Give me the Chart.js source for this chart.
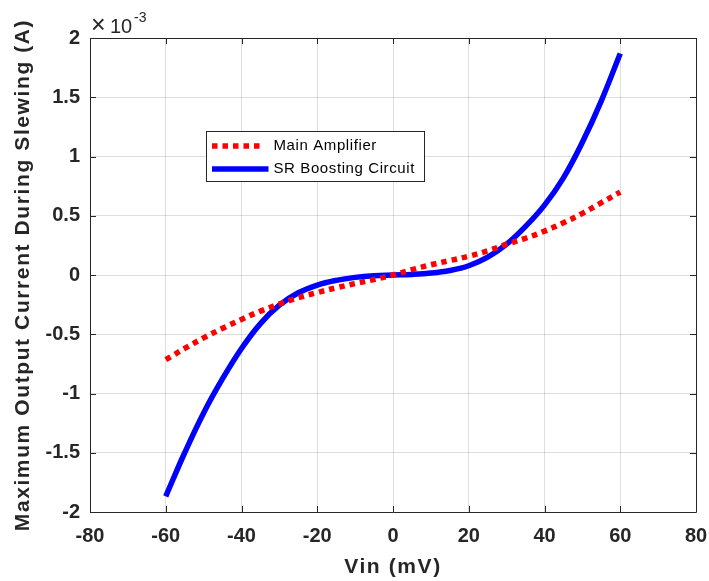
<!DOCTYPE html>
<html>
<head>
<meta charset="utf-8">
<script src="https://cdn.jsdelivr.net/npm/chart.js@4.4.0/dist/chart.umd.min.js"></script>
<style>
  body { margin: 0; background: #fff; }
  #wrap { width: 709px; height: 581px; }
</style>
</head>
<body>
<div id="wrap"><canvas id="myChart" width="709" height="581"></canvas></div>
<script>
// values in units of 1e-3 A
var vin = [-60, -55, -50, -45, -40, -35, -30, -25, -20, -15, -10, -5, 0,
           5, 10, 15, 20, 25, 30, 35, 40, 45, 50, 55, 60];
var mainAmp = [-0.714, -0.62, -0.53, -0.45, -0.375, -0.305, -0.245, -0.192, -0.148, -0.108, -0.072, -0.038, 0,
               0.045, 0.086, 0.122, 0.159, 0.204, 0.26, 0.31, 0.37, 0.44, 0.52, 0.61, 0.70];
var srBoost = [-1.868, -1.50, -1.164, -0.875, -0.62, -0.41, -0.255, -0.15, -0.085, -0.045, -0.02, -0.006, 0,
               0.005, 0.016, 0.038, 0.078, 0.15, 0.26, 0.41, 0.59, 0.82, 1.12, 1.47, 1.87];
var xTicks = [-80, -60, -40, -20, 0, 20, 40, 60, 80];
var yTicks = [-2, -1.5, -1, -0.5, 0, 0.5, 1, 1.5, 2];
var seriesNames = ["Main Amplifier", "SR Boosting Circuit"];
var xTitle = "Vin (mV)";
var yTitle = "Maximum Output Current During Slewing (A)";

var axisCol = "#262626";
var gridCol = "rgba(0,0,0,0.13)";
var fontFam = "'Liberation Sans', Arial, Helvetica, sans-serif";

function toPoints(xs, ys) {
  var pts = [];
  for (var i = 0; i < xs.length; i++) pts.push({x: xs[i], y: ys[i]});
  return pts;
}

// box, inward ticks, titles, exponent and legend, MATLAB style
var matlabAxes = {
  id: "matlabAxes",
  afterDatasetsDraw: function(chart) {
    var ctx = chart.ctx;
    var a = chart.chartArea;
    var xs = chart.scales.x, ys = chart.scales.y;
    ctx.save();
    ctx.strokeStyle = axisCol;
    ctx.lineWidth = 1;
    ctx.beginPath();
    ctx.rect(Math.round(a.left) + 0.5, Math.round(a.top) + 0.5,
             Math.round(a.right - a.left), Math.round(a.bottom - a.top));
    ctx.stroke();

    var tl = 6;
    ctx.beginPath();
    xTicks.forEach(function(v) {
      var px = Math.round(xs.getPixelForValue(v)) + 0.5;
      ctx.moveTo(px, a.bottom); ctx.lineTo(px, a.bottom - tl);
      ctx.moveTo(px, a.top); ctx.lineTo(px, a.top + tl);
    });
    yTicks.forEach(function(v) {
      var py = Math.round(ys.getPixelForValue(v)) + 0.5;
      ctx.moveTo(a.left, py); ctx.lineTo(a.left + tl, py);
      ctx.moveTo(a.right, py); ctx.lineTo(a.right - tl, py);
    });
    ctx.stroke();

    // legend
    var lx = 206.5, ly = 131.5, lw = 218, lh = 50;
    ctx.fillStyle = "#fff";
    ctx.fillRect(lx, ly, lw, lh);
    ctx.strokeRect(lx, ly, lw, lh);
    var rows = [146, 169];
    chart.data.datasets.forEach(function(ds, i) {
      ctx.save();
      ctx.strokeStyle = ds.borderColor;
      ctx.lineWidth = ds.borderWidth;
      ctx.lineCap = "butt";
      ctx.setLineDash(ds.borderDash || []);
      ctx.beginPath();
      ctx.moveTo(lx + 5.5, rows[i]);
      ctx.lineTo(lx + (ds.borderDash ? 57 : 62), rows[i]);
      ctx.stroke();
      ctx.restore();
      ctx.fillStyle = "#000";
      ctx.font = "15px " + fontFam;
      ctx.letterSpacing = "0.6px";
      ctx.textAlign = "left";
      ctx.textBaseline = "middle";
      ctx.fillText(ds.label, lx + 67, rows[i]);
    });

    // axis titles
    ctx.fillStyle = axisCol;
    ctx.font = "bold 21px " + fontFam;
    ctx.letterSpacing = "1.6px";
    ctx.textAlign = "center";
    ctx.textBaseline = "alphabetic";
    ctx.fillText(xTitle, (a.left + a.right) / 2, 573);
    ctx.save();
    ctx.translate(28.5, (a.top + a.bottom) / 2);
    ctx.rotate(-Math.PI / 2);
    ctx.fillText(yTitle, 0, 0);
    ctx.restore();

    // exponent
    ctx.letterSpacing = "0px";
    ctx.textAlign = "left";
    ctx.font = "25px " + fontFam;
    ctx.fillText("\u00d7", 91, 33);
    ctx.font = "20px " + fontFam;
    ctx.fillText("10", 110, 32.5);
    ctx.font = "14px " + fontFam;
    ctx.fillText("-3", 134, 21.5);
    ctx.restore();
  }
};

var cx = document.getElementById("myChart");
var myChart = new Chart(cx, {
  type: "line",
  data: {
    datasets: [{
      label: seriesNames[0],
      data: toPoints(vin, mainAmp),
      borderColor: "#ff0000",
      borderWidth: 5.5,
      borderDash: [5.5, 5],
      borderCapStyle: "butt",
      pointRadius: 0,
      fill: false,
      tension: 0.4
    }, {
      label: seriesNames[1],
      data: toPoints(vin, srBoost),
      borderColor: "#0000ff",
      borderWidth: 5.5,
      borderCapStyle: "butt",
      pointRadius: 0,
      fill: false,
      tension: 0.4
    }]
  },
  options: {
    responsive: false,
    animation: false,
    events: [],
    layout: { padding: { top: 38, right: 13, left: 0, bottom: 0 } },
    plugins: { legend: { display: false }, tooltip: { enabled: false } },
    scales: {
      x: {
        type: "linear",
        min: -80, max: 80,
        afterBuildTicks: function(s) { s.ticks = xTicks.map(function(v) { return {value: v}; }); },
        afterFit: function(s) { s.height = 69; s.paddingLeft = 0; s.paddingRight = 0; },
        grid: { color: gridCol, drawTicks: false },
        border: { display: false },
        ticks: {
          padding: 12,
          color: axisCol,
          font: { family: fontFam, size: 20, weight: "bold" },
          maxRotation: 0,
          callback: function(v) { return String(v); }
        }
      },
      y: {
        type: "linear",
        min: -2, max: 2,
        afterBuildTicks: function(s) { s.ticks = yTicks.map(function(v) { return {value: v}; }); },
        afterFit: function(s) { s.width = 90; s.paddingTop = 0; s.paddingBottom = 0; },
        grid: { color: gridCol, drawTicks: false },
        border: { display: false },
        ticks: {
          padding: 10,
          color: axisCol,
          font: { family: fontFam, size: 20, weight: "bold" },
          callback: function(v) { return String(v); }
        }
      }
    }
  },
  plugins: [matlabAxes]
});
</script>
</body>
</html>
